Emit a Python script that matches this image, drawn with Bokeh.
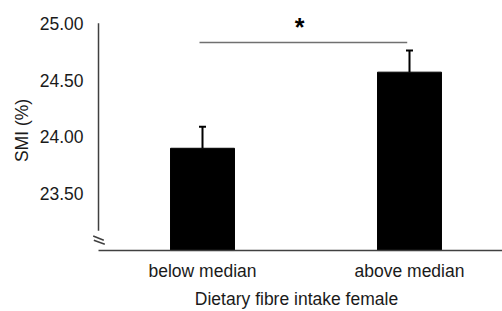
import math
from bokeh.plotting import figure
from bokeh.models import (ColumnDataSource, Range1d, FixedTicker, NumeralTickFormatter,
                          Whisker, TeeHead, Label)
from bokeh.embed import file_html
from bokeh.resources import INLINE

categories = ["below median", "above median"]
positions = [0, 1]
means = [23.90, 24.57]
sem = [0.19, 0.19]
y_ticks = [23.5, 24.0, 24.5, 25.0]
y_title = "SMI (%)"
x_title = "Dietary fibre intake female"
sig_label = "*"

FONT = "Liberation Sans"
TXT = "#1a1a1a"
AX = "#404040"

X0, X1 = -0.5411, 1.4493      # frame x extent
Y0, Y1 = 22.9826, 25.1304     # frame y extent
BASE = 23.0                   # broken-axis baseline value
AXIS_X = -0.5024              # where the visible y axis line sits
AXIS_LOW = 23.174             # y axis line stops here (axis break)

src = ColumnDataSource(dict(
    x=positions, top=means,
    upper=[m + s for m, s in zip(means, sem)],
))

p = figure(width=502, height=311, output_backend="svg", toolbar_location=None,
           x_range=Range1d(X0, X1), y_range=Range1d(Y0, Y1),
           min_border_left=90, min_border_right=0, min_border_top=8, min_border_bottom=56)
p.outline_line_color = None
p.xgrid.visible = False
p.ygrid.visible = False
p.background_fill_color = "white"

p.vbar(x="x", top="top", bottom=BASE, width=0.309, source=src,
       fill_color="black", line_color="black")

w = Whisker(source=src, base="x", upper="upper", lower="top",
            upper_head=TeeHead(size=7, line_width=2, line_color="black"),
            lower_head=None, line_color="black", line_width=2)
p.add_layout(w)

# axis lines drawn by hand (broken axis)
p.segment(x0=AXIS_X, x1=AXIS_X, y0=AXIS_LOW, y1=y_ticks[-1], line_color=AX, line_width=1.5)
p.segment(x0=AXIS_X, x1=X1, y0=BASE, y1=BASE, line_color=AX, line_width=1.5)
for y0, y1, xa, xb in [(23.128, 23.090, -0.528, -0.477), (23.090, 23.055, -0.525, -0.472)]:
    p.segment(x0=xa, y0=y0, x1=xb, y1=y1, line_color=AX, line_width=1.5)

# y axis (labels only)
p.yaxis.ticker = FixedTicker(ticks=y_ticks)
p.yaxis.formatter = NumeralTickFormatter(format="0.00")
p.yaxis.major_tick_line_color = None
p.yaxis.minor_tick_line_color = None
p.yaxis.major_tick_out = 0
p.yaxis.major_label_standoff = 7
p.yaxis.axis_line_color = None
p.yaxis.major_label_text_font = FONT
p.yaxis.major_label_text_font_size = "17.5px"
p.yaxis.major_label_text_color = TXT
p.yaxis.axis_label = y_title
p.yaxis.axis_label_standoff = 5
p.yaxis.axis_label_text_font = FONT
p.yaxis.axis_label_text_font_size = "17.5px"
p.yaxis.axis_label_text_font_style = "normal"
p.yaxis.axis_label_text_color = TXT

# x axis (labels only)
p.xaxis.ticker = FixedTicker(ticks=positions)
p.xaxis.major_label_overrides = {pos: c for pos, c in zip(positions, categories)}
p.xaxis.major_tick_line_color = None
p.xaxis.minor_tick_line_color = None
p.xaxis.major_tick_out = 0
p.xaxis.major_label_standoff = 8
p.xaxis.axis_line_color = None
p.xaxis.major_label_text_font = FONT
p.xaxis.major_label_text_font_size = "17.5px"
p.xaxis.major_label_text_color = TXT
p.xaxis.axis_label = x_title
p.xaxis.axis_label_standoff = 5
p.xaxis.axis_label_text_font = FONT
p.xaxis.axis_label_text_font_size = "17.5px"
p.xaxis.axis_label_text_font_style = "normal"
p.xaxis.axis_label_text_color = TXT

# significance bracket
p.segment(x0=positions[0] - 0.0145, x1=positions[1] - 0.011, y0=24.832, y1=24.832,
          line_color="#707070", line_width=1.5)
p.add_layout(Label(x=0.4686, y=24.969, text=sig_label,
                   text_align="center", text_baseline="alphabetic", text_font=FONT,
                   text_font_size="25px", text_font_style="bold", text_color="black"))

open("out.html", "w").write(file_html(p, INLINE))
